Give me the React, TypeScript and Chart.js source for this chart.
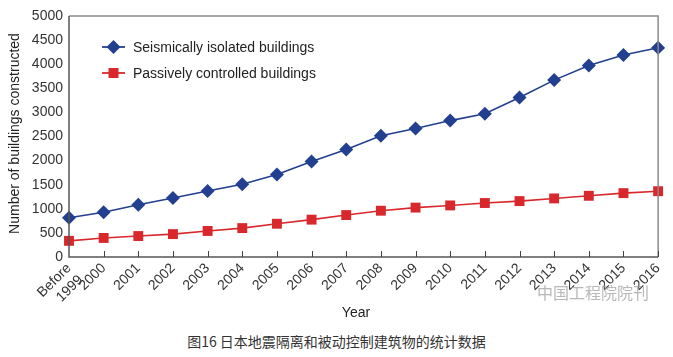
import React, { useEffect, useRef } from 'react';
import { Chart, registerables } from 'chart.js';

Chart.register(...registerables);

const categories: (string | string[])[] = [
  ['Before', '1999'], '2000', '2001', '2002', '2003', '2004', '2005', '2006', '2007',
  '2008', '2009', '2010', '2011', '2012', '2013', '2014', '2015', '2016',
];
const isolatedValues = [815, 930, 1085, 1225, 1370, 1510, 1710, 1980, 2230, 2515, 2665, 2830, 2970, 3310, 3670, 3975, 4190, 4340];
const passiveValues = [335, 395, 435, 475, 540, 600, 690, 775, 870, 960, 1025, 1070, 1120, 1160, 1215, 1270, 1325, 1365];
const seriesNames = ['Seismically isolated buildings', 'Passively controlled buildings'];
const yMin = 0;
const yMax = 5000;
const yStep = 500;
const yTitle = 'Number of buildings constructed';
const xTitle = 'Year';
const caption = '图16 日本地震隔离和被动控制建筑物的统计数据';
const watermark = '中国工程院院刊';

const BLUE = '#233f8f';
const RED = '#d9282c';
const FONT = 'Arial, "Liberation Sans", sans-serif';

const decorPlugin = {
  id: 'decor',
  afterDraw(chart: any) {
    const { ctx, chartArea } = chart;
    const { left, right, top, bottom } = chartArea;
    const xs = chart.scales.x;
    ctx.save();
    ctx.strokeStyle = '#8a8a8a';
    ctx.lineWidth = 1.5;
    ctx.beginPath();
    ctx.moveTo(left, top);
    ctx.lineTo(right, top);
    ctx.lineTo(right, bottom);
    ctx.stroke();
    ctx.strokeStyle = '#555';
    ctx.lineWidth = 1.5;
    ctx.beginPath();
    ctx.moveTo(left, top);
    ctx.lineTo(left, bottom);
    ctx.lineTo(right, bottom);
    ctx.stroke();
    ctx.lineWidth = 1;
    ctx.strokeStyle = '#444';
    for (let i = 1; i < categories.length; i++) {
      const x = Math.round(xs.getPixelForValue(i)) + 0.5;
      ctx.beginPath();
      ctx.moveTo(x, bottom);
      ctx.lineTo(x, bottom - 6);
      ctx.stroke();
    }
    const items = [
      { name: seriesNames[0], color: BLUE, style: 'diamond', y: 47 },
      { name: seriesNames[1], color: RED, style: 'square', y: 73 },
    ];
    ctx.font = '14px ' + FONT;
    ctx.textBaseline = 'middle';
    ctx.textAlign = 'left';
    for (const it of items) {
      ctx.strokeStyle = it.color;
      ctx.lineWidth = 1.8;
      ctx.beginPath();
      ctx.moveTo(102, it.y);
      ctx.lineTo(125, it.y);
      ctx.stroke();
      ctx.fillStyle = it.color;
      ctx.beginPath();
      if (it.style === 'diamond') {
        ctx.moveTo(113.5, it.y - 7);
        ctx.lineTo(120.5, it.y);
        ctx.lineTo(113.5, it.y + 7);
        ctx.lineTo(106.5, it.y);
        ctx.closePath();
      } else {
        ctx.rect(108.5, it.y - 5, 10, 10);
      }
      ctx.fill();
      ctx.fillStyle = '#222';
      ctx.fillText(it.name, 133, it.y + 1);
    }
    ctx.fillStyle = '#222';
    ctx.font = '14px ' + FONT;
    ctx.textAlign = 'center';
    ctx.fillText(xTitle, 356, 313);
    ctx.save();
    ctx.translate(15, (top + bottom) / 2 - 3);
    ctx.rotate(-Math.PI / 2);
    ctx.fillText(yTitle, 0, 0);
    ctx.restore();
    ctx.fillStyle = 'rgba(160,160,160,0.75)';
    ctx.font = '16px "Noto Sans CJK SC", sans-serif';
    ctx.textAlign = 'left';
    ctx.fillText(watermark, 537, 293);
    ctx.restore();
  },
};

export default function App() {
  const ref = useRef<HTMLCanvasElement>(null);
  useEffect(() => {
    if (!ref.current) return;
    const chart = new Chart(ref.current, {
      type: 'line',
      data: {
        labels: categories as any,
        datasets: [
          {
            label: seriesNames[0],
            data: isolatedValues,
            borderColor: BLUE,
            backgroundColor: BLUE,
            borderWidth: 1.6,
            pointStyle: 'rectRot',
            pointRadius: 7,
            pointBorderWidth: 0,
            tension: 0,
          },
          {
            label: seriesNames[1],
            data: passiveValues,
            borderColor: RED,
            backgroundColor: RED,
            borderWidth: 1.6,
            pointStyle: 'rect',
            pointRadius: 7,
            pointBorderWidth: 0,
            tension: 0,
          },
        ],
      },
      options: {
        responsive: false,
        animation: false,
        layout: { padding: { top: 16, right: 10, left: 0, bottom: 0 } },
        plugins: { legend: { display: false }, tooltip: { enabled: false } },
        scales: {
          x: {
            offset: false,
            grid: { display: false, drawTicks: false },
            border: { display: false },
            ticks: {
              autoSkip: false,
              maxRotation: 45,
              minRotation: 45,
              padding: 3,
              color: '#333',
              font: { family: FONT, size: 14 },
            },
            afterFit: (s: any) => { s.height = 73; },
          },
          y: {
            min: yMin,
            max: yMax,
            grid: { display: false, drawTicks: false },
            border: { display: false },
            ticks: {
              stepSize: yStep,
              padding: 6,
              color: '#333',
              font: { family: FONT, size: 14 },
              callback: (v: any) => String(v),
            },
            afterFit: (s: any) => { s.width = 69; },
          },
        },
      },
      plugins: [decorPlugin],
    });
    return () => chart.destroy();
  }, []);
  return (
    <div style={{ position: 'absolute', left: 0, top: 0, width: 673, height: 357, background: '#fff' }}>
      <canvas ref={ref} width={673} height={330} style={{ display: 'block' }} />
      <div
        style={{
          position: 'absolute',
          left: 0,
          width: 673,
          top: 331,
          textAlign: 'center',
          fontFamily: '"Noto Sans CJK SC", sans-serif',
          fontSize: 14,
          color: '#333',
          lineHeight: '20px',
        }}
      >
        {caption}
      </div>
    </div>
  );
}
